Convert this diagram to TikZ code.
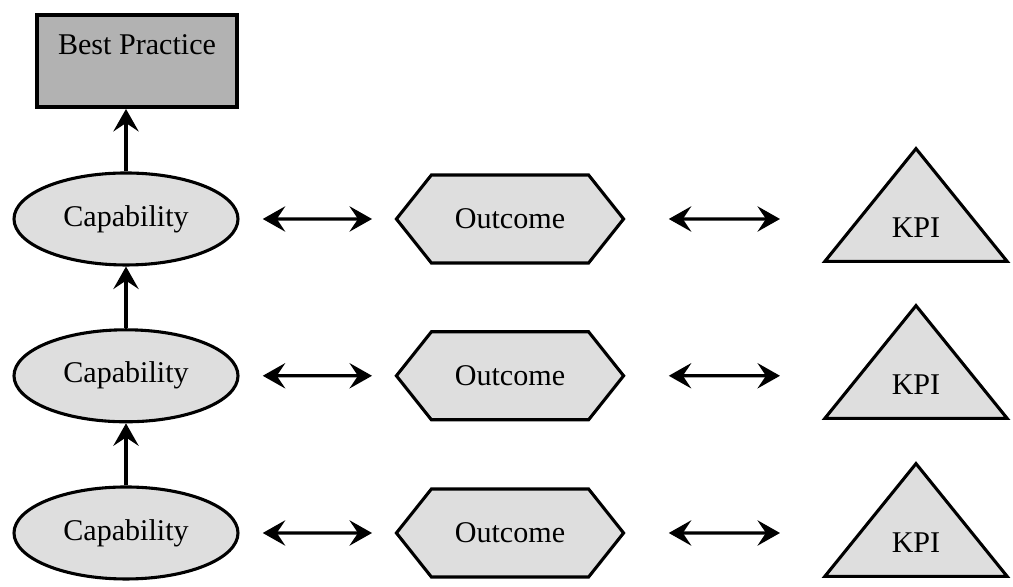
\documentclass[tikz,border=0pt]{standalone}
\usepackage{fontspec}
\setmainfont{Liberation Serif}
\usetikzlibrary{shapes.geometric,shapes.symbols,arrows.meta}
\begin{document}
\begin{tikzpicture}[>={Stealth[length=8pt,width=9pt,inset=3pt]}, scale=.5,
    every node/.style={font=\fontsize{10.7}{13}\selectfont},
    bpbox/.style={rectangle, draw, line width=1.4pt, fill=black!30, inner sep=0pt,
        minimum width=2.5cm, text height=.5cm, text depth=.65cm},
    capnode/.style={ellipse, draw, line width=1.1pt, fill=black!13,
        minimum width=2.8cm, minimum height=1.15cm},
    outnode/.style={signal, signal to=west and east, signal from=nowhere,
        signal pointer angle=103, draw, line width=1.1pt, fill=black!13,
        minimum width=2.84cm, minimum height=1.1cm},
    kpinode/.style={isosceles triangle, isosceles triangle stretches,
        shape border rotate=90, draw, line width=1.1pt, fill=black!13,
        inner sep=0pt, minimum width=2.28cm, minimum height=1.41cm},
    link/.style={<->, line width=1.1pt}]
\useasboundingbox (0,0) rectangle (25.325,14.675);
\node[bpbox] (best) at (3.425,13.15) {Best Practice};
% capabilities
\node[capnode] (cap1) at (3.15,9.2) {Capability};
\node[capnode] (cap2) at (3.15,5.28) {Capability};
\node[capnode] (cap3) at (3.15,1.35) {Capability};
% outcomes
\node[outnode] (out1) at (12.75,9.2) {Outcome};
\node[outnode] (out2) at (12.75,5.28) {Outcome};
\node[outnode] (out3) at (12.75,1.35) {Outcome};
% kpis
\node[kpinode, anchor=lower side] (kpi1) at (22.9,8.1) {KPI};
\node[kpinode, anchor=lower side] (kpi2) at (22.9,4.175) {KPI};
\node[kpinode, anchor=lower side] (kpi3) at (22.9,.225) {KPI};
\draw[->, line width=1.1pt](cap1)--(cap1 |- best.south);
\draw[->, line width=1.1pt](cap2)--(cap1);
\draw[->, line width=1.1pt](cap3)--(cap2);
\foreach \r in {1,2,3}
{
    \draw[link, shorten <=.29cm, shorten >=.28cm](cap\r)--(out\r);
    \draw[link, shorten <=.54cm, shorten >=1.7cm](out\r)--(out\r -| kpi\r);
}
\end{tikzpicture}
\end{document}
